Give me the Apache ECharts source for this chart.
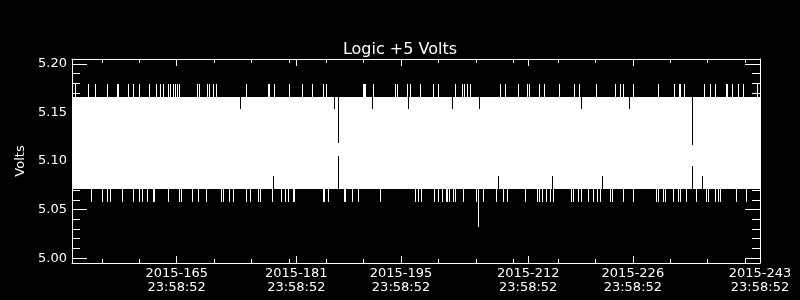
<!DOCTYPE html>
<html><head><meta charset="utf-8">
<script src="https://cdn.jsdelivr.net/npm/echarts@6/dist/echarts.min.js"></script>
<style>html,body{margin:0;padding:0;background:#000;}#c{width:800px;height:300px;}</style>
</head><body><div id="c"></div>
<script>
// ---- chart text ----
const chartTitle = 'Logic +5 Volts';
const yName = 'Volts';
const year = '2015';
const tickTime = '23:58:52';

// ---- axes (x in day-of-year) ----
const xStart = 151, xEnd = 243;
const xMajorTicks = [165, 181, 195, 212, 226, 243];
const xMinorTicks = [155, 160, 170, 175, 180, 185, 190, 200, 205, 210, 216, 221, 231, 236, 241];
const yMin = 4.995, yMax = 5.205;
const yMajorTicks = [5.00, 5.05, 5.10, 5.15, 5.20];
const yMinorTicks = [5.01, 5.02, 5.03, 5.04, 5.06, 5.07, 5.08, 5.09, 5.11, 5.12, 5.13, 5.14, 5.16, 5.17, 5.18, 5.19];

// ---- data levels (volts) ----
const bandLow = 5.0714, bandHigh = 5.1663;   // dense sample band
const spikeHigh = 5.1797, spikeLow = 5.0580, deepLow = 5.0316;
const dipHigh = 5.1532, dipLow = 5.0845;

// days where samples reach spikeHigh
const upSpikeDays = [151.47,153.18,154.17,155.72,157.05,157.28,158.53,159.19,159.96,161.43,162.32,162.86,163.30,163.97,164.23,164.63,164.90,165.07,165.44,167.80,168.02,169.18,169.45,169.98,170.34,
 174.35,177.30,177.43,178.04,180.05,180.14,181.78,183.17,184.59,185.08,189.94,190.07,190.20,191.27,194.27,194.53,195.87,196.22,
 197.65,199.39,199.96,202.33,203.22,203.53,203.89,204.33,208.34,208.92,210.75,211.86,212.22,213.55,214.22,216.23,218.14,218.81,
 221.13,223.67,224.34,224.69,226.03,229.37,231.51,232.17,232.40,232.94,235.52,236.41,237.08,238.51,238.72,239.26,240.19,240.73,242.65];
// days where samples reach spikeLow
const downSpikeDays = [153.63,155.10,155.72,156.17,157.72,159.19,159.96,160.40,161.06,161.87,162.09,163.87,165.44,165.66,167.13,167.88,169.00,171.01,171.22,172.03,172.56,
 174.35,174.93,175.90,176.26,177.77,179.03,179.56,179.91,180.58,180.81,184.59,184.72,185.26,187.40,187.62,188.47,189.27,192.21,196.94,197.29,
 197.74,199.43,200.05,200.55,201.08,201.26,201.43,201.97,202.29,203.30,205.09,205.98,207.77,208.65,209.18,211.59,213.19,213.55,213.92,214.45,215.02,215.33,217.79,218.10,218.67,219.13,220.01,220.68,
 221.27,221.71,223.00,223.22,224.69,226.03,229.15,229.37,230.04,230.36,231.37,232.04,232.40,233.16,234.50,235.84,236.05,237.08,237.39,237.75,239.85,241.18];
// days where samples reach deepLow
const deepDropDays = [205.31];
// days where the maximum only reaches dipHigh
const topDipDays = [173.59,186.15,191.14,196.04,201.83,205.44,219.07,225.49];
// days where the minimum only reaches dipLow
const bottomDipDays = [177.91,207.98,215.20,221.88,235.25];
// [day, min, max] of columns with a narrow range
const narrowColumns = [[186.59, 5.1052, 5.1189], [234.04, 5.0948, 5.1161]];

// ---- build series data ----
const bandData = [[xStart, xEnd, bandLow, bandHigh]];
const whiteCols = []
  .concat(upSpikeDays.map(d => [d, bandHigh, spikeHigh]))
  .concat(downSpikeDays.map(d => [d, spikeLow, bandLow]))
  .concat(deepDropDays.map(d => [d, deepLow, bandLow]));
const blackCols = []
  .concat(topDipDays.map(d => [d, dipHigh, bandHigh]))
  .concat(bottomDipDays.map(d => [d, bandLow, dipLow]));
narrowColumns.forEach(c => { blackCols.push([c[0], bandLow, c[1]]); blackCols.push([c[0], c[2], bandHigh]); });

function colRender(color) {
  return function (params, api) {
    const p1 = api.coord([api.value(0), api.value(2)]);
    const p2 = api.coord([api.value(0), api.value(1)]);
    const top = Math.round(p1[1]), bot = Math.round(p2[1]);
    return { type: 'rect', shape: { x: Math.floor(p1[0]), y: top, width: 1, height: Math.max(1, bot - top) }, style: { fill: color } };
  };
}
function bandRender(params, api) {
  const a = api.coord([api.value(0), api.value(3)]);
  const b = api.coord([api.value(1), api.value(2)]);
  return { type: 'rect', shape: { x: a[0], y: Math.round(a[1]), width: b[0] - a[0], height: Math.round(b[1]) - Math.round(a[1]) }, style: { fill: '#fff' } };
}

const W = '#ffffff';
const font = 'DejaVu Sans';
const lineStyle = { color: W, width: 1 };
function xAx(pos, ticks, len, showLine, showLabel) {
  return {
    type: 'value', position: pos, min: xStart, max: xEnd,
    axisLine: { show: showLine, lineStyle: lineStyle },
    axisTick: { show: true, inside: true, length: len, customValues: ticks, lineStyle: lineStyle },
    axisLabel: { show: showLabel, customValues: ticks, color: W, fontFamily: font, fontSize: 13, lineHeight: 14, margin: 4,
      formatter: v => year + '-' + Math.round(v) + '\n' + tickTime },
    splitLine: { show: false }
  };
}
function yAx(pos, ticks, len, showLine, showLabel) {
  return {
    type: 'value', position: pos, min: yMin, max: yMax,
    name: showLabel ? yName : '', nameLocation: 'middle', nameRotate: 90, nameGap: 38,
    nameTextStyle: { color: W, fontFamily: font, fontSize: 13 },
    axisLine: { show: showLine, lineStyle: lineStyle },
    axisTick: { show: true, inside: true, length: len, customValues: ticks, lineStyle: lineStyle },
    axisLabel: { show: showLabel, customValues: ticks, color: W, fontFamily: font, fontSize: 13, margin: 5,
      formatter: v => v.toFixed(2) },
    splitLine: { show: false }
  };
}

const chart = echarts.init(document.getElementById('c'), null, { renderer: 'canvas' });
chart.setOption({
  backgroundColor: '#000',
  animation: false,
  title: { text: chartTitle, left: 'center', top: 37, textStyle: { color: W, fontFamily: font, fontSize: 16, fontWeight: 'normal' } },
  grid: { left: 72, right: 40, top: 59, bottom: 37, containLabel: false },
  xAxis: [
    xAx('bottom', xMajorTicks, 7, true, true),
    xAx('bottom', xMinorTicks, 4, false, false),
    xAx('top', xMajorTicks, 7, true, false),
    xAx('top', xMinorTicks, 4, false, false)
  ],
  yAxis: [
    yAx('left', yMajorTicks, 15, true, true),
    yAx('left', yMinorTicks, 8, false, false),
    yAx('right', yMajorTicks, 15, true, false),
    yAx('right', yMinorTicks, 8, false, false)
  ],
  series: [
    { type: 'custom', renderItem: bandRender, data: bandData, encode: { x: [0, 1], y: [2, 3] }, z: 1 },
    { type: 'custom', renderItem: colRender(W), data: whiteCols, encode: { x: 0, y: [1, 2] }, z: 2 },
    { type: 'custom', renderItem: colRender('#000'), data: blackCols, encode: { x: 0, y: [1, 2] }, z: 3 }
  ]
});
</script></body></html>
